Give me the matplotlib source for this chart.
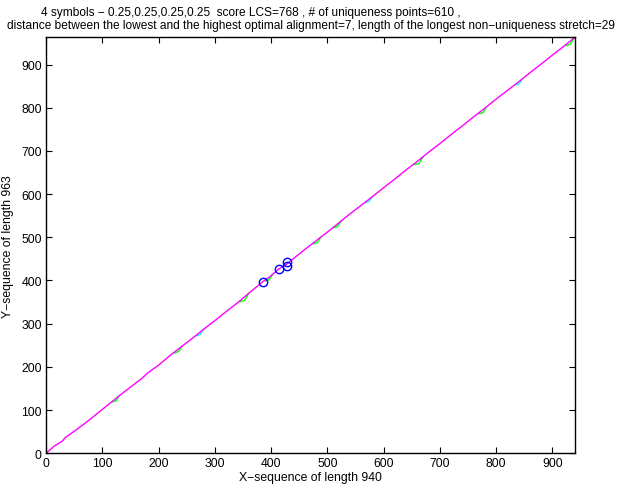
import matplotlib
matplotlib.use("Agg")
import matplotlib.pyplot as plt

plt.rcParams['font.family'] = ['Liberation Sans', 'DejaVu Sans']

# main optimal alignment path (magenta)
path_x = [0, 15, 30, 33, 50, 70, 90, 110, 130, 150, 170, 180, 185, 200, 220, 240, 260,
          280, 300, 320, 340, 360, 385, 400, 414, 428, 440, 460, 480, 500, 520, 540, 560,
          580, 600, 620, 640, 660, 680, 700, 720, 740, 760, 780, 800, 820, 840, 860, 880,
          900, 920, 940]
path_y = [0, 17, 29, 35, 51, 70, 91, 112, 133, 153, 173, 185, 190, 204, 226, 246, 266,
          287, 307, 328, 348, 370, 397, 411, 427, 438, 451, 472, 492, 512, 533, 554, 574,
          594, 615, 635, 656, 676, 697, 717, 738, 758, 779, 799, 820, 840, 860, 881, 901,
          922, 942, 963]

# alternative alignment stretches (green)
green_segments = [
    ([118, 125, 130], [119, 122, 133]),
    ([228, 236, 242], [232, 236, 248]),
    ([345, 353, 360], [351, 354, 370]),
    ([390, 397, 402], [399, 402, 413]),
    ([476, 483, 488], [485, 488, 500]),
    ([512, 519, 524], [522, 526, 537]),
    ([655, 663, 670], [668, 671, 686]),
    ([770, 777, 782], [786, 789, 801]),
    ([925, 932, 938], [944, 947, 961]),
]

# alternative alignment stretches (cyan)
cyan_segments = [
    ([268, 274, 280], [272, 275, 287]),
    ([568, 574, 580], [580, 583, 594]),
    ([835, 841, 846], [853, 855, 866]),
]

# non-unique points marked with circles
circle_x = [385, 414, 428, 428]
circle_y = [397, 427, 442, 434]

fig = plt.figure(figsize=(6.2, 4.89), dpi=100)
ax = fig.add_axes([0.0742, 0.071, 0.8532, 0.8507])

for sx, sy in green_segments:
    ax.plot(sx, sy, color='#00ff00', lw=1.0)
for sx, sy in cyan_segments:
    ax.plot(sx, sy, color='#00ffff', lw=1.0)
ax.plot(path_x, path_y, color='#ff00ff', lw=1.0)
ax.plot(circle_x, circle_y, 'o', mfc='none', mec='#0000ff', ms=6, mew=1.0, ls='none')

ax.set_xlim(0, 940)
ax.set_ylim(0, 963)
ax.set_xticks(range(0, 901, 100))
ax.set_yticks(range(0, 901, 100))
ax.tick_params(direction='in', top=True, right=True, length=4, width=0.8, labelsize=8.8, pad=3)
for s in ax.spines.values():
    s.set_linewidth(1.0)

ax.set_xlabel('X\u2212sequence of length 940', fontsize=8.8, labelpad=1)
ax.set_ylabel('Y\u2212sequence of length 963', fontsize=8.8, labelpad=5)

fig.text(41 / 620, 1 - 13 / 489,
         '4 symbols \u2212 0.25,0.25,0.25,0.25  score LCS=768 , # of uniqueness points=610 ,',
         ha='left', va='center', fontsize=8.6)
fig.text(311 / 620, 1 - 26 / 489,
         'distance between the lowest and the highest optimal alignment=7, length of the longest non\u2212uniqueness stretch=29',
         ha='center', va='center', fontsize=8.6)

fig.savefig('out.png', dpi=100)
